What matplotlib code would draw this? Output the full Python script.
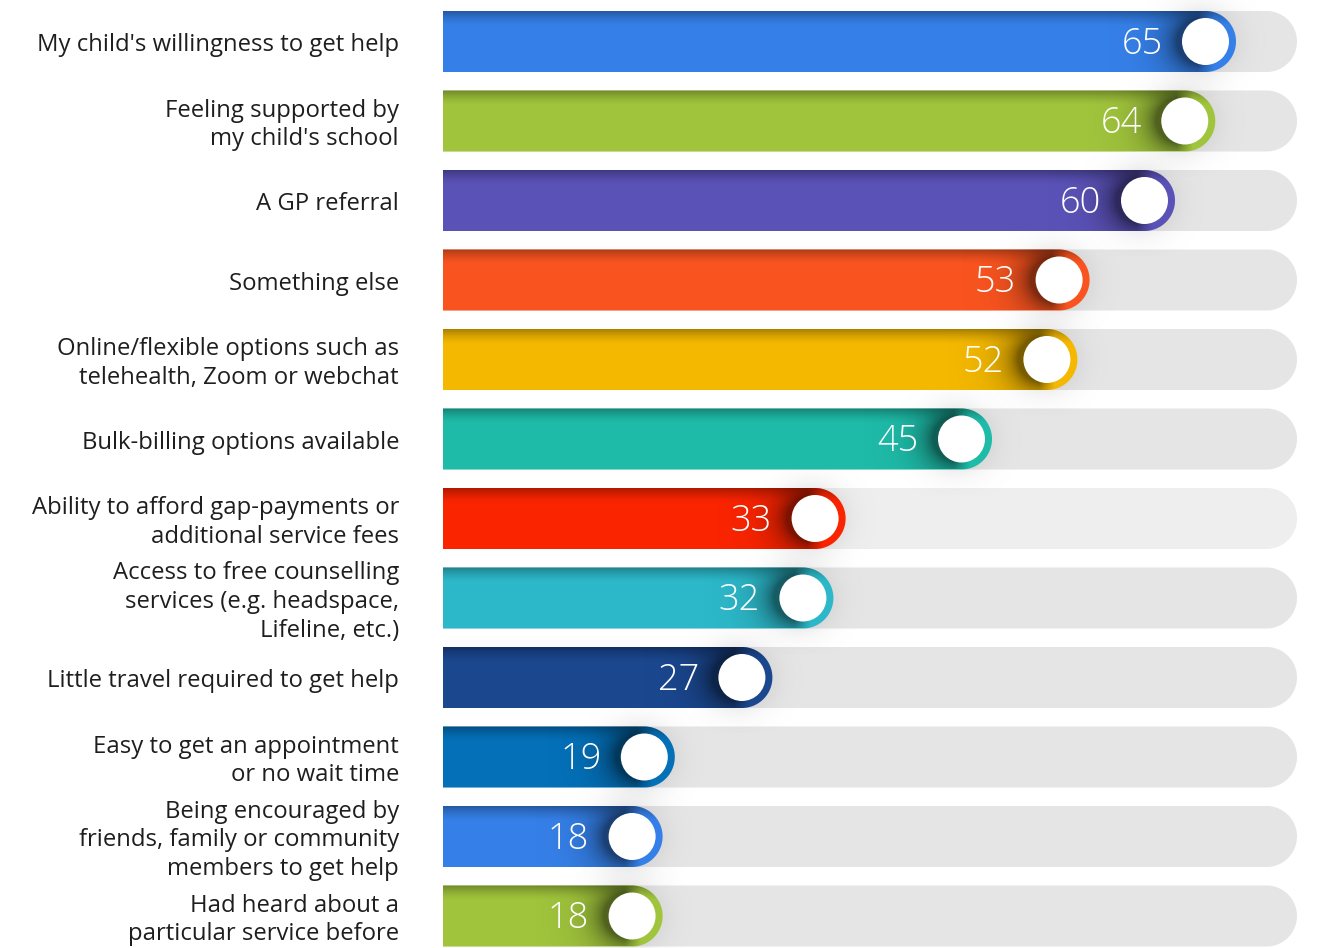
import numpy as np
import matplotlib.pyplot as plt
from matplotlib.patches import PathPatch, Ellipse
from matplotlib.path import Path
from matplotlib.transforms import offset_copy

plt.rcParams['font.family'] = ['Open Sans', 'DejaVu Sans']

labels = [
    "My child's willingness to get help",
    "Feeling supported by\nmy child's school",
    "A GP referral",
    "Something else",
    "Online/flexible options such as\ntelehealth, Zoom or webchat",
    "Bulk-billing options available",
    "Ability to afford gap-payments or\nadditional service fees",
    "Access to free counselling\nservices (e.g. headspace,\nLifeline, etc.)",
    "Little travel required to get help",
    "Easy to get an appointment\nor no wait time",
    "Being encouraged by\nfriends, family or community\nmembers to get help",
    "Had heard about a\nparticular service before",
]
# printed values, and bar lengths as drawn (the 64 bar is drawn a bit short)
values = [65, 64, 60, 53, 52, 45, 33, 32, 27, 19, 18, 18]
lengths = [65, 63.3, 60, 53, 52, 45, 33, 32, 27, 19, 18, 18]
colors = ['#3580E8', '#A0C43C', '#5B52B8', '#F9541F', '#F4B800', '#1EBBA8',
          '#FA2400', '#2CB8C9', '#1B478F', '#0470B8', '#3580E8', '#A0C43C']
track_colors = ['#E5E5E5'] * 6 + ['#EEEEEE'] + ['#E5E5E5'] * 5
track_max = 70

W, H = 1323, 948
PX_X = 12.2      # pixels per value unit
PX_Y = 79.5      # pixels per row
bar_h = 61 / PX_Y
cap_r = 30.5 / PX_X
circ_d = 47

fig = plt.figure(figsize=(W / 100, H / 100), dpi=100)
ax = fig.add_axes([443 / W, 0, 880 / W, 1])
xlim = (0, 880 / PX_X)
ylim = ((H - 41.5) / PX_Y, -41.5 / PX_Y)
ax.set_xlim(*xlim)
ax.set_ylim(*ylim)
ax.axis('off')


def pill(end, y):
    # square left end, round right end
    t = np.linspace(-np.pi / 2, np.pi / 2, 80)
    cx = end - cap_r
    xs = np.concatenate([[0], cx + cap_r * np.cos(t), [0, 0]])
    ys = np.concatenate([[y + bar_h / 2], y - bar_h / 2 * np.sin(t),
                         [y - bar_h / 2, y + bar_h / 2]])
    verts = np.column_stack([xs, ys])
    codes = [Path.MOVETO] + [Path.LINETO] * (len(verts) - 2) + [Path.CLOSEPOLY]
    return Path(verts, codes)


for i, (lab, val, v, c) in enumerate(zip(labels, values, lengths, colors)):
    y = i
    # grey track
    ax.add_patch(PathPatch(pill(track_max, y), fc=track_colors[i], ec='none', zorder=1))

    cx = v - cap_r

    # soft halo around the cap
    gx = np.linspace(cx - 6, cx + 5, 120)
    gy = np.linspace(y - 0.7, y + 0.7, 80)
    XX, YY = np.meshgrid(gx, gy)
    d = np.hypot((XX - cx + 0.4) * PX_X, (YY - y) * PX_Y)
    a = 0.09 * np.exp(-np.clip(d - 28, 0, None) / 12)
    img = np.zeros(XX.shape + (4,))
    img[..., 3] = a
    ax.imshow(img, extent=(gx[0], gx[-1], gy[-1], gy[0]), origin='upper',
              aspect='auto', zorder=2, interpolation='bilinear')

    bar = PathPatch(pill(v, y), fc=c, ec='none', zorder=3)
    ax.add_patch(bar)

    # darker top edge
    n = 60
    rr = np.linspace(0, 1, n)
    top = np.zeros((n, 1, 4))
    top[:, 0, 3] = 0.30 * np.clip(1 - rr / 0.25, 0, 1) ** 1.5
    im = ax.imshow(top, extent=(0, v, y + bar_h / 2, y - bar_h / 2), origin='upper',
                   aspect='auto', zorder=4, interpolation='bilinear')
    im.set_clip_path(bar)

    # shadow cast by the knob, mostly to its left
    gx = np.linspace(max(cx - 8, 0), v, 160)
    gy = np.linspace(y - bar_h / 2, y + bar_h / 2, 60)
    XX, YY = np.meshgrid(gx, gy)
    dxp = (XX - cx) * PX_X
    d = np.hypot(dxp + 6, (YY - y) * PX_Y)
    a = 0.5 * np.exp(-np.clip(d - 23, 0, None) / 15) * np.clip((8 - dxp) / 16, 0, 1)
    img = np.zeros(XX.shape + (4,))
    img[..., 3] = a
    im = ax.imshow(img, extent=(gx[0], gx[-1], gy[-1], gy[0]), origin='upper',
                   aspect='auto', zorder=4, interpolation='bilinear')
    im.set_clip_path(bar)

    ax.add_patch(Ellipse((cx, y), circ_d / PX_X, circ_d / PX_Y, fc='white',
                         ec='none', zorder=5))

    ax.text(cx, y, str(val), transform=offset_copy(ax.transData, fig, x=-43, y=-3, units='dots'),
            ha='right', va='center', color='white', fontsize=26, fontweight='light',
            zorder=6)

    ax.text(0, y, lab, transform=offset_copy(ax.transData, fig, x=-44, y=-4, units='dots'),
            ha='right', va='center', color='#1E1E1E', fontsize=17.2, linespacing=1.26)

ax.set_xlim(*xlim)
ax.set_ylim(*ylim)
fig.savefig('out.png', dpi=100)
